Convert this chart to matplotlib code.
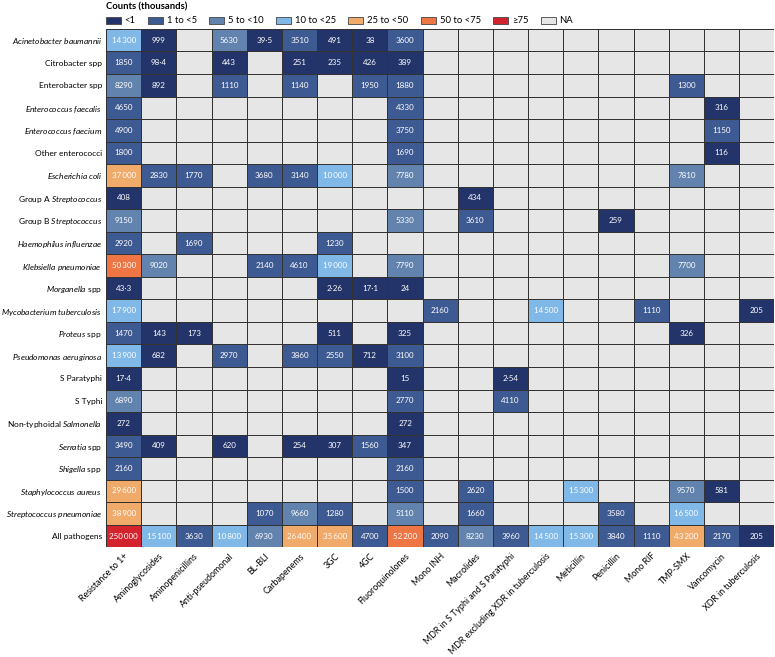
import matplotlib
matplotlib.use("Agg")
import matplotlib.pyplot as plt
import matplotlib.colors as mcolors
from matplotlib.patches import Patch
import numpy as np

plt.rcParams['font.family'] = ['Lato', 'DejaVu Sans']
plt.rcParams['mathtext.fontset'] = 'custom'
plt.rcParams['mathtext.rm'] = 'Lato'
plt.rcParams['mathtext.it'] = 'Lato:italic'

pathogens = [
    r"$\mathit{Acinetobacter\ baumannii}$",
    "Citrobacter spp",
    "Enterobacter spp",
    r"$\mathit{Enterococcus\ faecalis}$",
    r"$\mathit{Enterococcus\ faecium}$",
    "Other enterococci",
    r"$\mathit{Escherichia\ coli}$",
    r"Group A $\mathit{Streptococcus}$",
    r"Group B $\mathit{Streptococcus}$",
    r"$\mathit{Haemophilus\ influenzae}$",
    r"$\mathit{Klebsiella\ pneumoniae}$",
    r"$\mathit{Morganella}$ spp",
    r"$\mathit{Mycobacterium\ tuberculosis}$",
    r"$\mathit{Proteus}$ spp",
    r"$\mathit{Pseudomonas\ aeruginosa}$",
    "S Paratyphi",
    "S Typhi",
    r"Non-typhoidal $\mathit{Salmonella}$",
    r"$\mathit{Serratia}$ spp",
    r"$\mathit{Shigella}$ spp",
    r"$\mathit{Staphylococcus\ aureus}$",
    r"$\mathit{Streptococcus\ pneumoniae}$",
    "All pathogens",
]

drugs = ["Resistance to 1+", "Aminoglycosides", "Aminopenicillins", "Anti-pseudomonal",
         "BL-BLI", "Carbapenems", "3GC", "4GC", "Fluoroquinolones", "Mono INH",
         "Macrolides", "MDR in S Typhi and S Paratyphi", "MDR excluding XDR in tuberculosis",
         "Meticillin", "Penicillin", "Mono RIF", "TMP-SMX", "Vancomycin", "XDR in tuberculosis"]

# counts per pathogen: {drug column: value}
counts = {
    0: {0: 14300, 1: 999, 3: 5630, 4: 39.5, 5: 3510, 6: 491, 7: 38, 8: 3600},
    1: {0: 1850, 1: 98.4, 3: 443, 5: 251, 6: 235, 7: 426, 8: 389},
    2: {0: 8290, 1: 892, 3: 1110, 5: 1140, 7: 1950, 8: 1880, 16: 1300},
    3: {0: 4650, 8: 4330, 17: 316},
    4: {0: 4900, 8: 3750, 17: 1150},
    5: {0: 1800, 8: 1690, 17: 116},
    6: {0: 37000, 1: 2830, 2: 1770, 4: 3680, 5: 3140, 6: 10000, 8: 7780, 16: 7810},
    7: {0: 408, 10: 434},
    8: {0: 9150, 8: 5330, 10: 3610, 14: 259},
    9: {0: 2920, 2: 1690, 6: 1230},
    10: {0: 50300, 1: 9020, 4: 2140, 5: 4610, 6: 19000, 8: 7790, 16: 7700},
    11: {0: 43.3, 6: 2.26, 7: 17.1, 8: 24},
    12: {0: 17900, 9: 2160, 12: 14500, 15: 1110, 18: 205},
    13: {0: 1470, 1: 143, 2: 173, 6: 511, 8: 325, 16: 326},
    14: {0: 13900, 1: 682, 3: 2970, 5: 3860, 6: 2550, 7: 712, 8: 3100},
    15: {0: 17.4, 8: 15, 11: 2.54},
    16: {0: 6890, 8: 2770, 11: 4110},
    17: {0: 272, 8: 272},
    18: {0: 3490, 1: 409, 3: 620, 5: 254, 6: 307, 7: 1560, 8: 347},
    19: {0: 2160, 8: 2160},
    20: {0: 29600, 8: 1500, 10: 2620, 13: 15300, 16: 9570, 17: 581},
    21: {0: 38900, 4: 1070, 5: 9660, 6: 1280, 8: 5110, 10: 1660, 14: 3580, 16: 16500},
    22: dict(enumerate([250000, 15100, 3630, 10800, 6930, 26400, 35600, 4700, 52200, 2090,
                        8230, 3960, 14500, 15300, 3840, 1110, 43200, 2170, 205])),
}

bin_labels = ["<1", "1 to <5", "5 to <10", "10 to <25", "25 to <50", "50 to <75", "≥75", "NA"]
bin_edges = [1000, 5000, 10000, 25000, 50000, 75000]
bin_colors = ["#22346a", "#3e5a92", "#6183ae", "#80b9e8", "#f0aa6a", "#ee7645", "#d3232c", "#e6e6e6"]


def fmt(v):
    if v < 100 and v != int(v):
        return f"{v:g}".replace(".", "·")
    s = f"{int(v)}"
    if len(s) >= 5:
        s = s[:-3] + "\u2009" + s[-3:]
    return s


nr, nc = len(pathogens), len(drugs)
cat = np.full((nr, nc), 7)
for i, row in counts.items():
    for j, v in row.items():
        cat[i, j] = np.searchsorted(bin_edges, v, side="right")

cmap = mcolors.ListedColormap(bin_colors)
fig = plt.figure(figsize=(7.75, 6.57), dpi=100)
ax = fig.add_axes([0.137, 0.167, 0.862, 0.789])
ax.pcolormesh(cat, cmap=cmap, vmin=-0.5, vmax=7.5, edgecolors="#333333", linewidth=0.6)
ax.set_xlim(0, nc)
ax.set_ylim(nr, 0)

for i, row in counts.items():
    for j, v in row.items():
        ax.text(j + 0.5, i + 0.5, fmt(v), ha="center", va="center", color="white", fontsize=5.8)

ax.set_xticks(np.arange(nc) + 0.5)
ax.set_xticklabels(drugs, rotation=45, ha="right", rotation_mode="anchor", fontsize=6.4)
ax.set_yticks(np.arange(nr) + 0.5)
ax.set_yticklabels(pathogens, fontsize=6.0)
ax.tick_params(axis="y", length=0, pad=3)
ax.tick_params(axis="x", length=0, pad=3)
for s in ax.spines.values():
    s.set_visible(False)

handles = [Patch(facecolor=c, edgecolor="#444444", linewidth=0.6) for c in bin_colors]
leg = fig.legend(handles, bin_labels, ncol=8, loc="upper left", bbox_to_anchor=(0.128, 1.006),
                 frameon=False, fontsize=6.8, title="Counts (thousands)", title_fontsize=6.8,
                 handlelength=1.6, handleheight=0.8, handletextpad=0.4, columnspacing=1.3,
                 alignment="left", borderaxespad=0.3)
leg.get_title().set_fontweight("bold")

fig.savefig("out.png", dpi=100)
